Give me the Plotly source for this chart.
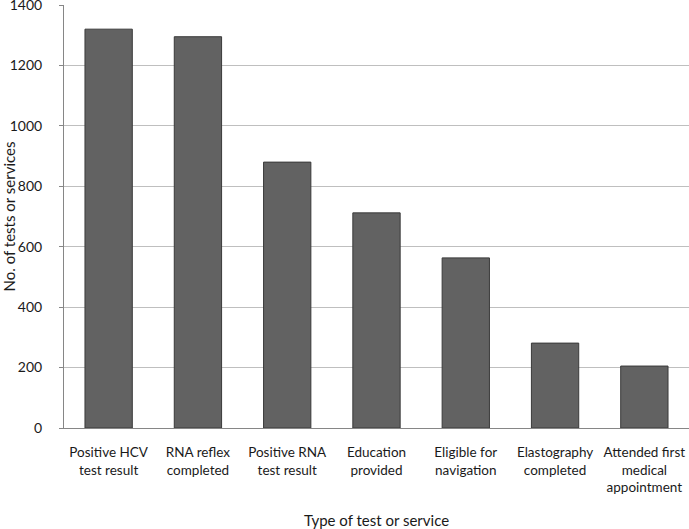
import plotly.graph_objects as go

categories = ["Positive HCV<br>test result", "RNA reflex<br>completed", "Positive RNA<br>test result",
              "Education<br>provided", "Eligible for<br>navigation", "Elastography<br>completed",
              "Attended first<br>medical<br>appointment"]
values = [1320, 1295, 880, 712, 563, 281, 205]
y_ticks = [0, 200, 400, 600, 800, 1000, 1200, 1400]

fig = go.Figure(go.Bar(
    x=categories, y=values,
    marker=dict(color="#626262", line=dict(color="#3a3a3a", width=1)),
    width=0.53,
))
fig.update_layout(
    width=689, height=529,
    margin=dict(l=64, r=0, t=5, b=101),
    plot_bgcolor="white", paper_bgcolor="white",
    font=dict(family="Lato, 'Open Sans', sans-serif", size=14, color="#1a1a1a"),
    showlegend=False,
)
fig.update_yaxes(
    range=[0, 1400], tickvals=y_ticks, showgrid=True, gridcolor="#bfbfbf", gridwidth=1,
    showline=True, linecolor="#868686", linewidth=1, ticks="outside", ticklen=4, tickcolor="#868686",
    zeroline=False, automargin=False, ticklabelstandoff=14, ticklabeloverflow="allow",
    title=dict(text="No. of tests or services", font=dict(size=15), standoff=8),
    tickfont=dict(size=14),
)
fig.update_xaxes(
    showline=True, linecolor="#868686", linewidth=1, ticks="", showgrid=False, automargin=False,
    tickfont=dict(size=13.5), ticklabelstandoff=12, ticklabeloverflow="allow",
    title=dict(text="Type of test or service", font=dict(size=15), standoff=26),
)
fig.write_html("out.html", config={"displayModeBar": False},
               post_script="document.body.style.margin='0';document.body.style.padding='0';")
